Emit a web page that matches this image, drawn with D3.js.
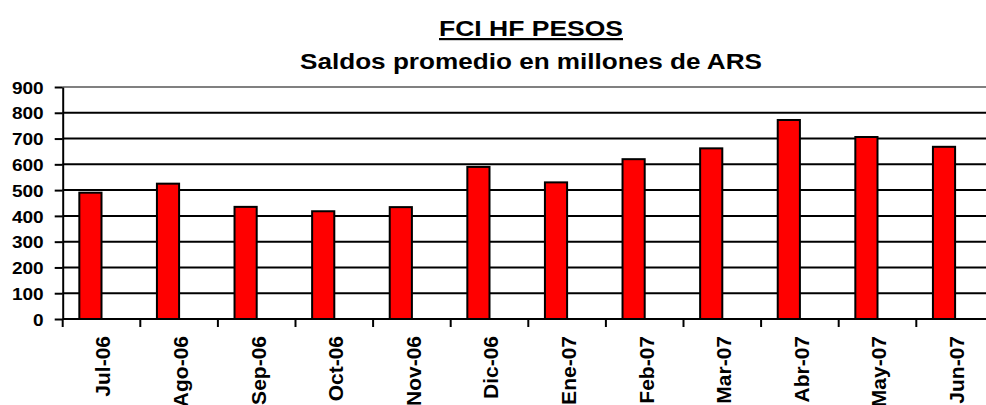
<!DOCTYPE html>
<html>
<head>
<meta charset="utf-8">
<script src="https://cdn.jsdelivr.net/npm/d3@7"></script>
<style>
  body { margin: 0; background: #fff; }
  text { font-family: "Liberation Sans", Arial, sans-serif; font-weight: bold; fill: #000; }
</style>
</head>
<body>
<div id="chart"></div>
<script>
var months = ["Jul-06", "Ago-06", "Sep-06", "Oct-06", "Nov-06", "Dic-06",
              "Ene-07", "Feb-07", "Mar-07", "Abr-07", "May-07", "Jun-07"];
var saldos = [490, 525, 435, 418, 434, 590, 530, 620, 662, 772, 706, 668];
var yTicks = [0, 100, 200, 300, 400, 500, 600, 700, 800, 900];
var title = "FCI HF PESOS";
var subtitle = "Saldos promedio en millones de ARS";

var W = 986, H = 405;
var plotLeft = 62.7, plotTop = 87, plotBottom = 319;
var step = 77.6;

var svg = d3.select("#chart")
  .append("svg")
    .attr("width", W)
    .attr("height", H);

var x = d3.scaleBand()
  .domain(months)
  .range([plotLeft, plotLeft + step * months.length]);

// excel style: second empty series slot, gap width 150%
var xSub = d3.scaleBand()
  .domain(["saldo", "vacio"])
  .range([0, x.bandwidth()])
  .paddingInner(0)
  .paddingOuter(0.75);

var y = d3.scaleLinear()
  .domain([0, 900])
  .range([plotBottom, plotTop]);

// gridlines
svg.append("g")
  .selectAll("line")
  .data(yTicks.filter(function(d) { return d > 0; }))
  .enter()
  .append("line")
    .attr("x1", plotLeft)
    .attr("x2", x.range()[1])
    .attr("y1", function(d) { return y(d); })
    .attr("y2", function(d) { return y(d); })
    .attr("stroke", function(d) { return d === 900 ? "#808080" : "#000"; })
    .attr("stroke-width", 2);

// bars
svg.append("g")
  .selectAll("rect")
  .data(saldos)
  .enter()
  .append("rect")
    .attr("x", function(d, i) { return x(months[i]) + xSub("saldo"); })
    .attr("width", xSub.bandwidth())
    .attr("y", function(d) { return y(d); })
    .attr("height", function(d) { return y(0) - y(d); })
    .attr("fill", "#ff0000")
    .attr("stroke", "#000")
    .attr("stroke-width", 2);

// y axis
var yAxis = svg.append("g")
  .attr("transform", "translate(" + plotLeft + ",0)")
  .call(d3.axisLeft(y).tickValues(yTicks).tickSize(8).tickSizeOuter(0));
yAxis.selectAll("path, line").attr("stroke", "#000").attr("stroke-width", 2);
yAxis.selectAll("text")
  .attr("x", 0)
  .attr("dy", "0.36em")
  .attr("transform", "translate(-19,0) scale(1.12,1)")
  .style("font-size", "17px")
  .style("font-family", "Liberation Sans, Arial, sans-serif")
  .style("font-weight", "bold");

// x axis: ticks between categories, labels at centers
var xAxis = svg.append("g")
  .attr("transform", "translate(0," + plotBottom + ")");
xAxis.append("line")
  .attr("x1", plotLeft)
  .attr("x2", x.range()[1])
  .attr("stroke", "#000")
  .attr("stroke-width", 2);
xAxis.selectAll("line.tick")
  .data(months.concat(["fin"]))
  .enter()
  .append("line")
    .attr("class", "tick")
    .attr("x1", function(d, i) { return x.range()[0] + i * x.step(); })
    .attr("x2", function(d, i) { return x.range()[0] + i * x.step(); })
    .attr("y1", 0)
    .attr("y2", 8)
    .attr("stroke", "#000")
    .attr("stroke-width", 2);
xAxis.selectAll("text")
  .data(months)
  .enter()
  .append("text")
    .attr("transform", function(d) {
      return "translate(" + (x(d) + x.bandwidth() / 2) + ",17) rotate(-90)";
    })
    .attr("dy", "0.42em")
    .style("text-anchor", "end")
    .style("font-size", "21px")
    .text(function(d) { return d; });

// titles
svg.append("text")
  .attr("x", 531)
  .attr("y", 36)
  .attr("text-anchor", "middle")
  .attr("textLength", 184)
  .attr("lengthAdjust", "spacingAndGlyphs")
  .style("font-size", "22px")
  .style("text-decoration", "underline")
  .text(title);

svg.append("text")
  .attr("x", 531)
  .attr("y", 69)
  .attr("text-anchor", "middle")
  .attr("textLength", 462)
  .attr("lengthAdjust", "spacingAndGlyphs")
  .style("font-size", "22px")
  .text(subtitle);
</script>
</body>
</html>
